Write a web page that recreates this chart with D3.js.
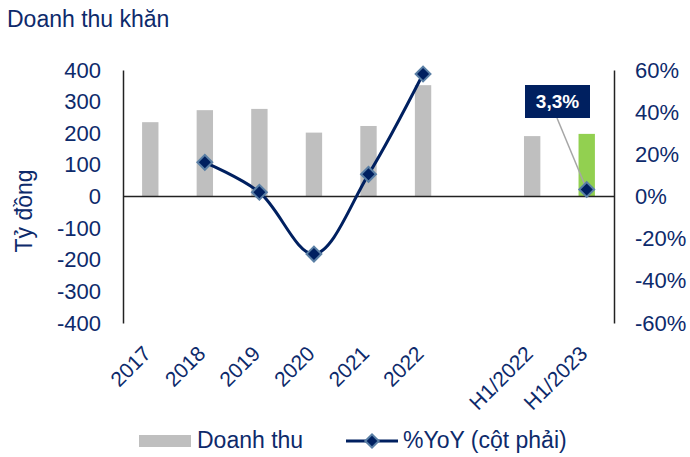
<!DOCTYPE html>
<html><head><meta charset="utf-8">
<script src="https://cdn.jsdelivr.net/npm/d3@7"></script>
<style>body{margin:0;background:#fff}svg{display:block;font-family:"Liberation Sans",Arial,sans-serif}</style>
</head><body>
<svg id="c" width="690" height="457"></svg>
<script>
const categories = ["2017","2018","2019","2020","2021","2022","","H1/2022","H1/2023"];
const revenue = [235, 273, 277, 202, 223, 352, null, 191, 198];
const yoy = [null, 16.2, 2.0, -27.3, 10.5, 58.1, null, null, 3.3];
const leftTicks = [-400,-300,-200,-100,0,100,200,300,400];
const rightTicks = [-60,-40,-20,0,20,40,60];
const highlight = "H1/2023";

const navy = "#0d2a6b", lineC = "#002060";
const FF = "Liberation Sans, Arial, sans-serif";
const svg = d3.select("#c");
const L = 123, R = 614, T = 70, B = 323;

const x = d3.scaleBand().domain(categories.map((d,i)=>i)).range([L,R]).paddingInner(0.7).paddingOuter(0.35);
const xc = i => x(i) + x.bandwidth()/2;
const yL = d3.scaleLinear().domain([-400,400]).range([B,T]);
const yR = d3.scaleLinear().domain([-60,60]).range([B,T]);

svg.append("text").attr("x",7).attr("y",27).attr("font-size",23).attr("fill",navy).text("Doanh thu khăn");

// bars
svg.selectAll("rect.bar").data(revenue.map((v,i)=>({v,i})).filter(d=>d.v!=null)).enter()
  .append("rect").attr("class","bar")
  .attr("x",d=>x(d.i)).attr("width",x.bandwidth())
  .attr("y",d=>yL(d.v)).attr("height",d=>yL(0)-yL(d.v))
  .attr("fill",d=>categories[d.i]===highlight?"#92d050":"#bfbfbf");

// axes
const axL = svg.append("g").attr("transform",`translate(${L},0)`)
  .call(d3.axisLeft(yL).tickValues(leftTicks).tickSize(0).tickPadding(22).tickFormat(d=>String(d)));
axL.select(".domain").attr("stroke","#222").attr("stroke-width",1.5);
axL.selectAll("text").attr("font-size",22).attr("fill",navy).attr("font-family",FF);

const axR = svg.append("g").attr("transform",`translate(${R},0)`)
  .call(d3.axisRight(yR).tickValues(rightTicks).tickSize(0).tickPadding(21).tickFormat(d=>d+"%"));
axR.select(".domain").attr("stroke","#222").attr("stroke-width",1.5);
axR.selectAll("text").attr("font-size",22).attr("fill",navy).attr("font-family",FF);

// zero line
svg.append("line").attr("x1",L).attr("x2",R).attr("y1",yL(0)).attr("y2",yL(0)).attr("stroke","#222").attr("stroke-width",1.5);

// x labels
svg.append("g").selectAll("text").data(categories.map((c,i)=>({c,i})).filter(d=>d.c)).enter()
  .append("text")
  .attr("transform",d=>`translate(${xc(d.i)+2},${355}) rotate(-45)`)
  .attr("text-anchor","end").attr("font-size",21).attr("fill",navy).text(d=>d.c);

// line
const pts = yoy.map((v,i)=>({v,i})).filter(d=>d.v!=null);
const lineGen = d3.line().defined(d=>d.v!=null).x(d=>xc(d.i)).y(d=>yR(d.v)).curve(d3.curveCatmullRom.alpha(0.5));
svg.append("path").datum(yoy.map((v,i)=>({v,i}))).attr("d",lineGen).attr("fill","none").attr("stroke",lineC).attr("stroke-width",3);

// label leader
const hi = categories.indexOf(highlight);
svg.append("line").attr("x1",557).attr("y1",118).attr("x2",xc(hi)).attr("y2",yR(yoy[hi])).attr("stroke","#a6a6a6").attr("stroke-width",1.5);

svg.selectAll("path.mk").data(pts).enter().append("path").attr("class","mk")
  .attr("d",d3.symbol().type(d3.symbolSquare).size(110))
  .attr("transform",d=>`translate(${xc(d.i)},${yR(d.v)}) rotate(45)`)
  .attr("fill",lineC).attr("stroke","#5a7fa5").attr("stroke-width",2);

// data label
svg.append("rect").attr("x",525).attr("y",85).attr("width",65).attr("height",33).attr("fill","#002060");
svg.append("text").attr("x",557.5).attr("y",108).attr("text-anchor","middle").attr("font-size",19).attr("font-weight","bold").attr("fill","#fff")
  .text(String(yoy[hi]).replace(".",",")+"%");

// y title
svg.append("text").attr("transform","translate(32,211) rotate(-90)").attr("text-anchor","middle").attr("font-size",23).attr("fill",navy).text("Tỷ đồng");

// legend
svg.append("rect").attr("x",139).attr("y",435).attr("width",52).attr("height",12).attr("fill","#bfbfbf");
svg.append("text").attr("x",197).attr("y",448).attr("font-size",23).attr("fill",navy).text("Doanh thu");
svg.append("line").attr("x1",346).attr("x2",398).attr("y1",441).attr("y2",441).attr("stroke",lineC).attr("stroke-width",3);
svg.append("path").attr("d",d3.symbol().type(d3.symbolSquare).size(90)).attr("transform","translate(372,441) rotate(45)")
  .attr("fill",lineC).attr("stroke","#5a7fa5").attr("stroke-width",2);
svg.append("text").attr("x",403).attr("y",448).attr("font-size",23).attr("fill",navy).text("%YoY (cột phải)");
</script>
</body></html>
